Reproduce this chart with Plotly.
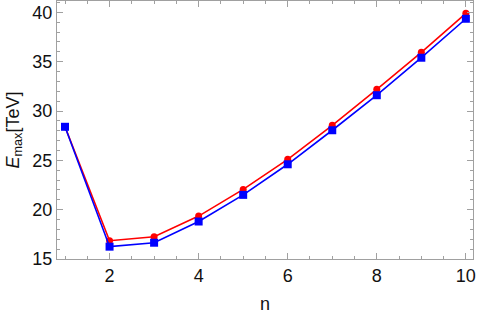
import plotly.graph_objects as go

n = [1, 2, 3, 4, 5, 6, 7, 8, 9, 10]
e_red = [28.4, 16.85, 17.25, 19.35, 22.05, 25.1, 28.55, 32.2, 35.95, 39.9]
e_blue = [28.4, 16.25, 16.65, 18.8, 21.5, 24.6, 28.05, 31.6, 35.4, 39.35]

FONT = "Liberation Sans"

fig = go.Figure()
fig.add_trace(go.Scatter(x=n, y=e_red, mode="lines+markers",
                         line=dict(color="#ff0000", width=1.6),
                         marker=dict(color="#ff0000", size=7, symbol="circle"),
                         showlegend=False))
fig.add_trace(go.Scatter(x=n, y=e_blue, mode="lines+markers",
                         line=dict(color="#0000ff", width=1.6),
                         marker=dict(color="#0000ff", size=8, symbol="square"),
                         showlegend=False))

axis_common = dict(showgrid=False, zeroline=False, showline=True, linecolor="#a0a0a0",
                   linewidth=1, mirror="ticks", ticks="inside", ticklen=6,
                   tickcolor="#a0a0a0", tickwidth=1, automargin=False,
                   tickfont=dict(family=FONT, size=18, color="#111"))

fig.update_xaxes(range=[0.82, 10.16], tickvals=[2, 4, 6, 8, 10],
                 minor=dict(dtick=0.5, tick0=0, ticks="inside", ticklen=3, tickcolor="#a0a0a0"),
                 title=dict(text="n", font=dict(family=FONT, size=18, color="#111"), standoff=14),
                 **axis_common)
fig.update_yaxes(range=[15, 41.15], tickvals=[15, 20, 25, 30, 35, 40],
                 minor=dict(dtick=1, tick0=0, ticks="inside", ticklen=3, tickcolor="#a0a0a0"),
                 title=dict(text="<i>E</i><sub>max</sub>[TeV]", font=dict(family=FONT, size=18, color="#111"), standoff=8),
                 **axis_common)

fig.update_layout(width=479, height=314, margin=dict(l=57, r=6, t=1, b=55),
                  plot_bgcolor="white", paper_bgcolor="white")
fig.write_html("out.html", config={"displayModeBar": False},
               post_script="document.body.style.margin='0';document.body.style.padding='0';")
